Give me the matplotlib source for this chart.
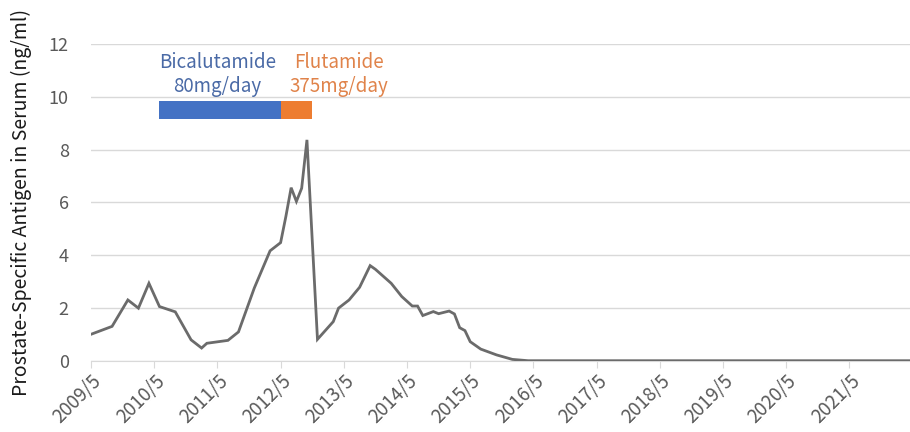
import matplotlib
matplotlib.use("Agg")
import matplotlib.pyplot as plt

plt.rcParams['font.family'] = ['Noto Sans CJK JP', 'DejaVu Sans']

# PSA measurements (date "YYYY/M", ng/ml)
dates = ["2009/5", "2009/9", "2009/12", "2010/2", "2010/4", "2010/6", "2010/9",
         "2010/12", "2011/2", "2011/3", "2011/7", "2011/9", "2011/12", "2012/3",
         "2012/5", "2012/6", "2012/7", "2012/8", "2012/9", "2012/10", "2012/12",
         "2013/3", "2013/4", "2013/6", "2013/8", "2013/10", "2013/11", "2014/2",
         "2014/4", "2014/6", "2014/7", "2014/8", "2014/10", "2014/11", "2015/1",
         "2015/2", "2015/3", "2015/4", "2015/5", "2015/7", "2015/10", "2016/1",
         "2016/4", "2017/5", "2018/5", "2019/5", "2020/5", "2021/5", "2022/5"]
psa = [1.01, 1.31, 2.31, 2.0, 2.94, 2.06, 1.86,
       0.8, 0.49, 0.67, 0.78, 1.1, 2.76, 4.17,
       4.48, 5.47, 6.56, 6.04, 6.54, 8.37, 0.82,
       1.49, 2.0, 2.31, 2.79, 3.61, 3.47, 2.94,
       2.44, 2.08, 2.08, 1.72, 1.87, 1.79, 1.89,
       1.78, 1.26, 1.15, 0.73, 0.45, 0.23, 0.06,
       0.01, 0.01, 0.01, 0.01, 0.01, 0.01, 0.01]

# treatment periods
drugs = ["Bicalutamide\n80mg/day", "Flutamide\n375mg/day"]
drug_start = ["2010/6", "2012/5"]
drug_end = ["2012/5", "2012/11"]
drug_colors = ["#4472C4", "#ED7D31"]
text_colors = ["#4a6aa6", "#e0834a"]
label_pos = ["2011/5", "2013/4"]

tick_labels = ["2009/5", "2010/5", "2011/5", "2012/5", "2013/5", "2014/5", "2015/5",
               "2016/5", "2017/5", "2018/5", "2019/5", "2020/5", "2021/5"]
yticks = [0, 2, 4, 6, 8, 10, 12]


def months(s):
    y, m = s.split("/")
    return (int(y) - 2009) * 12 + (int(m) - 5)


fig = plt.figure(figsize=(9.1, 4.32), dpi=100)
ax = fig.add_axes([0.1, 0.1644, 0.9, 0.7338])

x = [months(d) for d in dates]
ax.plot(x, psa, color="#6b6b6b", lw=2.0, solid_joinstyle="miter", zorder=3)

for name, s, e, c, tc, lp in zip(drugs, drug_start, drug_end, drug_colors,
                                 text_colors, label_pos):
    ax.barh(9.51, months(e) - months(s), left=months(s), height=0.68,
            color=c, zorder=4)
    ax.text(months(lp), 10.0, name, color=tc, fontsize=13.5, ha="center",
            va="bottom", linespacing=1.15, zorder=5)

ax.set_xlim(0, 155.5)
ax.set_ylim(0, 12)
ax.set_yticks(yticks)
ax.set_xticks([months(t) for t in tick_labels])
ax.set_xticklabels(tick_labels, rotation=45, ha="right", rotation_mode="anchor")
ax.grid(axis="y", color="#d9d9d9", lw=1.0, zorder=0)
for sp in ["top", "right", "left"]:
    ax.spines[sp].set_visible(False)
ax.spines["bottom"].set_color("#d9d9d9")
ax.tick_params(axis="y", length=0, labelsize=13, labelcolor="#595959", pad=16)
ax.tick_params(axis="x", length=5, color="#d9d9d9", labelsize=13.5,
               labelcolor="#595959", pad=2)
ax.set_ylabel("Prostate-Specific Antigen in Serum (ng/ml)", fontsize=14,
              color="#1a1a1a", labelpad=12)

fig.savefig("out.png", dpi=100)
